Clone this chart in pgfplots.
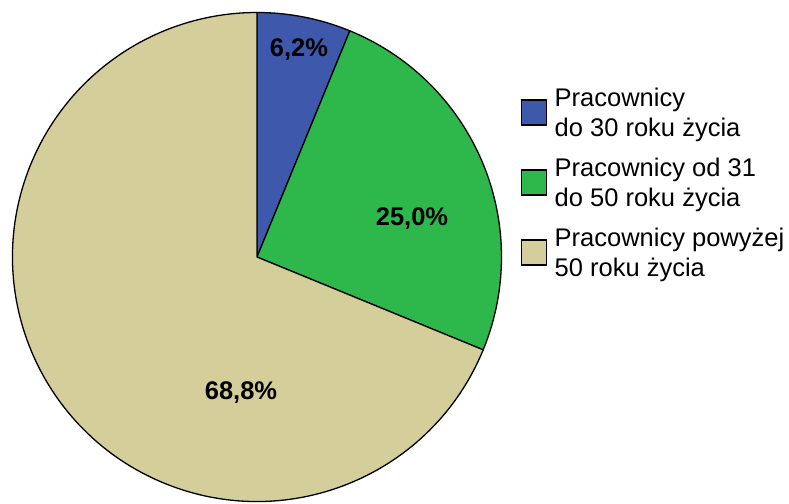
\documentclass[border=0pt]{standalone}
\usepackage{pgfplots}
\pgfplotsset{compat=1.18}
\usepackage{pgfplotstable}
\usepackage{fontspec}
\setmainfont{Liberation Sans}
\definecolor{pie0}{HTML}{3E58AC}
\definecolor{pie1}{HTML}{2EB84B}
\definecolor{pie2}{HTML}{D3CE9A}
\pgfplotstableread{
share
6.2
25.0
68.8
}\piedata
\newcommand{\legtext}[2]{\begin{tabular}[t]{@{\hspace{7.5pt}}l@{}}#1\\#2\end{tabular}}
\begin{document}
\begin{tikzpicture}
\begin{axis}[
  at={(0,0)}, anchor=origin,
  x=1pt, y=1pt,
  xmin=0, xmax=789, ymin=0, ymax=503,
  hide axis, clip=false,
  legend image code/.code={\draw[#1] (0pt,-18.25pt) rectangle (25pt,6.75pt);},
  legend style={at={(axis cs:521,416.3)}, anchor=north west,
    draw=none, fill=none, inner sep=0pt, outer sep=0pt,
    font=\fontsize{25.5}{29.5}\selectfont,
    row sep=12.5pt, column sep=0pt,
    nodes={inner sep=0pt, outer sep=0pt, anchor=base west,
      text height=20pt, text depth=37.5pt}},
  legend cell align=left,
]
\def\angA{90}
\pgfplotsforeachungrouped \i in {0,1,2}{%
  \pgfplotstablegetelem{\i}{share}\of\piedata
  \pgfmathsetmacro\angB{\angA-3.6*\pgfplotsretval}%
  \edef\cmd{\noexpand\filldraw[fill=pie\i, draw=black, line width=1.3pt, line join=round]
    (axis cs:257,246) -- ++(\angA:244.5pt) arc[start angle=\angA, end angle=\angB, radius=244.5pt] -- cycle;}%
  \cmd
  \global\let\angA\angB
}
\node[font=\fontsize{25.5}{27.7}\selectfont\bfseries] at (axis cs:299,453) {6,2\%};
\node[font=\fontsize{25.5}{27.7}\selectfont\bfseries] at (axis cs:412,284) {25,0\%};
\node[font=\fontsize{25.5}{27.7}\selectfont\bfseries] at (axis cs:241,110) {68,8\%};
\addlegendimage{fill=pie0, draw=black, line width=1.2pt}
\addlegendentry{\legtext{Pracownicy}{do 30 roku życia}}
\addlegendimage{fill=pie1, draw=black, line width=1.2pt}
\addlegendentry{\legtext{Pracownicy od 31}{do 50 roku życia}}
\addlegendimage{fill=pie2, draw=black, line width=1.2pt}
\addlegendentry{\legtext{Pracownicy powyżej}{50 roku życia}}
\end{axis}
\pgfresetboundingbox
\useasboundingbox (0,0) rectangle (789pt,503pt);
\end{tikzpicture}
\end{document}
